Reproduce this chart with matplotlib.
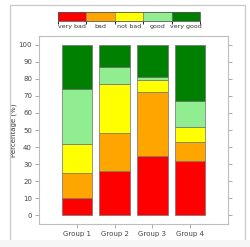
import numpy as np
import matplotlib
matplotlib.use("Agg")
import matplotlib.pyplot as plt
from matplotlib.colors import ListedColormap, BoundaryNorm
from matplotlib.patches import Rectangle
import matplotlib.cm as cm

groups = ["Group 1", "Group 2", "Group 3", "Group 4"]
ratings = ["very bad", "bad", "not bad", "good", "very good"]
very_bad = [10, 26, 35, 32]
bad = [15, 22, 37, 11]
not_bad = [17, 29, 7, 9]
good = [32, 10, 2, 15]
very_good = [26, 13, 19, 33]
colors = ["#ff0000", "#ffa500", "#ffff00", "#90ee90", "#008000"]

GRAY = "#bdbdbd"

fig = plt.figure(figsize=(2.5, 2.47), dpi=100)

# screenshot-like frame around the plot
fig.patches.append(Rectangle((10 / 250, 0), 235 / 250, 1 - 5 / 247,
                             transform=fig.transFigure, fill=False,
                             edgecolor="#c8c8c8", lw=0.9))
fig.patches.append(Rectangle((0, 0), 1, 7 / 247, transform=fig.transFigure,
                             facecolor="#f6f6f6", edgecolor="none"))

ax = fig.add_axes((0.156, 0.093, 0.756, 0.761))
x = np.arange(1, len(groups) + 1)
bottom = np.zeros(len(groups))
for vals, c in zip([very_bad, bad, not_bad, good, very_good], colors):
    ax.bar(x, vals, width=0.8, bottom=bottom, color=c,
           edgecolor="#707070", linewidth=0.5)
    bottom += np.array(vals)

ax.set_xlim(0, 5)
ax.set_ylim(-5, 105)
ax.set_yticks(range(0, 101, 10))
ax.set_xticks(x)
ax.set_xticklabels(groups)
ax.set_ylabel("Percentage (%)", fontsize=5, color="#333333", labelpad=1)
for sp in ax.spines.values():
    sp.set_color(GRAY)
    sp.set_linewidth(0.8)
ax.tick_params(axis="both", labelsize=5, colors="#444444", length=3,
               width=0.5, pad=2)
ax.tick_params(axis="y", right=True, color="#888888")
ax.tick_params(axis="x", color="#888888")

# color legend on top
cax = fig.add_axes((0.232, 0.915, 0.568, 0.036))
cmap = ListedColormap(colors)
norm = BoundaryNorm(np.arange(len(ratings) + 1), cmap.N)
cb = fig.colorbar(cm.ScalarMappable(norm=norm, cmap=cmap), cax=cax,
                  orientation="horizontal", drawedges=True,
                  ticks=np.arange(len(ratings)) + 0.5)
cb.ax.set_xticklabels(ratings)
cb.ax.tick_params(labelsize=4.5, length=0, pad=2, colors="#333333")
cb.outline.set_edgecolor("#555555")
cb.outline.set_linewidth(0.6)
cb.dividers.set_color("#777777")
cb.dividers.set_linewidth(0.5)

fig.savefig("out.png", dpi=100, facecolor="white")
